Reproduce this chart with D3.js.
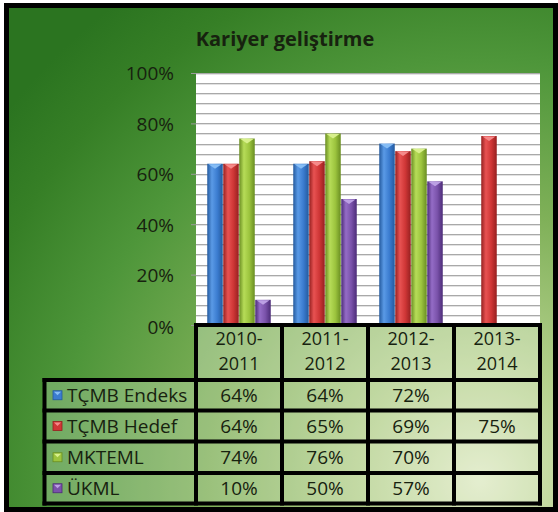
<!DOCTYPE html>
<html>
<head>
<meta charset="utf-8">
<script src="https://cdn.jsdelivr.net/npm/d3@7"></script>
<style>
  html, body { margin: 0; padding: 0; background: #fff; }
  svg { display: block; }
  text { font-family: "Open Sans", "DejaVu Sans", sans-serif; fill: #17220f; }
</style>
</head>
<body>
<svg id="chart" width="558" height="512"></svg>
<script>
// ---- data ----
const title = "Kariyer geliştirme";
const categories = ["2010-2011", "2011-2012", "2012-2013", "2013-2014"];
const seriesNames = ["TÇMB Endeks", "TÇMB Hedef", "MKTEML", "ÜKML"];
const endeks = [0.64, 0.64, 0.72, null];
const hedef  = [0.64, 0.65, 0.69, 0.75];
const mkteml = [0.74, 0.76, 0.70, null];
const ukml   = [0.10, 0.50, 0.57, null];
const yTicks = [0, 0.2, 0.4, 0.6, 0.8, 1.0];
const seriesValues = [endeks, hedef, mkteml, ukml];

// ---- styling per series: edge, light, body, cap ----
const palette = [
  { edge: "#245a9e", light: "#5a9ae6", body: "#3b7cd0", cap: "#86bdf5" },
  { edge: "#962020", light: "#e85252", body: "#cf3636", cap: "#f58a8a" },
  { edge: "#6a8e22", light: "#b6dc58", body: "#9cc43e", cap: "#d8f08c" },
  { edge: "#4c2c78", light: "#946cc6", body: "#7a52aa", cap: "#bca0e4" }
];

const svg = d3.select("#chart");
const defs = svg.append("defs");

// page background gradient
const bg = defs.append("radialGradient").attr("id", "bg")
  .attr("gradientUnits", "userSpaceOnUse")
  .attr("cx", 480).attr("cy", 480).attr("r", 600);
[[0, "#dde9c2"], [0.2, "#b4d08c"], [0.45, "#7fb058"], [0.7, "#4e963a"], [0.88, "#367f26"], [1, "#2b7420"]]
  .forEach(([o, c]) => bg.append("stop").attr("offset", o).attr("stop-color", c));

palette.forEach((p, i) => {
  const g = defs.append("linearGradient").attr("id", "bar" + i)
    .attr("x1", 0).attr("x2", 1).attr("y1", 0).attr("y2", 0);
  [[0, p.edge], [0.3, p.light], [0.65, p.body], [1, p.edge]]
    .forEach(([o, c]) => g.append("stop").attr("offset", o).attr("stop-color", c));
});

// frame
svg.append("rect")
  .attr("x", 6.5).attr("y", 5.5).attr("width", 549).attr("height", 504)
  .attr("fill", "url(#bg)").attr("stroke", "#000").attr("stroke-width", 5);

// ---- scales ----
const plotLeft = 196, plotRight = 540, plotTop = 73, plotBottom = 325;
const x = d3.scaleBand().domain(categories).range([plotLeft, plotRight]).paddingInner(0).paddingOuter(0);
const xs = d3.scaleBand().domain(seriesNames).range([0, x.bandwidth()]).paddingInner(0).paddingOuter(0.6875);
const y = d3.scaleLinear().domain([0, 1]).range([plotBottom, plotTop]);

// plot area
svg.append("rect")
  .attr("x", plotLeft).attr("y", plotTop)
  .attr("width", plotRight - plotLeft).attr("height", plotBottom - plotTop)
  .attr("fill", "#ffffff");

// minor gridlines every 4%
const gridValues = d3.range(0, 26).map(i => i / 25);
const grid = svg.append("g");
grid.selectAll("line.g1").data(gridValues.slice(1)).join("line")
  .attr("x1", plotLeft).attr("x2", plotRight)
  .attr("y1", d => Math.round(y(d)) + 0.5).attr("y2", d => Math.round(y(d)) + 0.5)
  .attr("stroke", "#a9a9a9").attr("stroke-width", 1);
grid.selectAll("line.g2").data(gridValues.slice(1)).join("line")
  .attr("x1", plotLeft).attr("x2", plotRight)
  .attr("y1", d => Math.round(y(d)) + 1.5).attr("y2", d => Math.round(y(d)) + 1.5)
  .attr("stroke", "#e2e2e2").attr("stroke-width", 1);

// y axis
const yAxis = d3.axisLeft(y).tickValues(yTicks).tickFormat(d3.format(".0%")).tickSize(5).tickPadding(17);
const ya = svg.append("g").attr("transform", `translate(${plotLeft},0)`).call(yAxis);
ya.select(".domain").remove();
ya.selectAll(".tick line").attr("stroke", "#9a9a9a");
ya.selectAll(".tick text")
  .attr("font-size", 19).attr("font-family", null).attr("fill", "#17220f")
  .attr("dy", d => d === 0 ? "0.45em" : "0.36em");

// bars
const barsG = svg.append("g");
seriesNames.forEach((name, si) => {
  const vals = seriesValues[si];
  const data = categories.map((c, ci) => ({ c, v: vals[ci] })).filter(d => d.v !== null);
  const g = barsG.append("g");
  g.selectAll("rect").data(data).join("rect")
    .attr("x", d => x(d.c) + xs(name) + 0.25)
    .attr("y", d => y(d.v))
    .attr("width", xs.bandwidth() - 0.5)
    .attr("height", d => y(0) - y(d.v))
    .attr("fill", `url(#bar${si})`);
  g.selectAll("path").data(data).join("path")
    .attr("d", d => {
      const x0 = x(d.c) + xs(name) + 1.5, x1 = x(d.c) + xs(name) + xs.bandwidth() - 1.5;
      const t = y(d.v);
      return `M${x0},${t + 0.5}L${x1},${t + 0.5}L${(x0 + x1) / 2},${t + 5}Z`;
    })
    .attr("fill", palette[si].cap);
});

// ---- data table ----
const legendLeft = 44.5;
const headerTop = 325, headerBottom = 380;
const rowLines = [380, 410.5, 441.5, 473, 503.5];
const lineW = 4;
const tableG = svg.append("g");

// cell washes
categories.forEach(c => {
  tableG.append("rect").attr("x", x(c)).attr("y", headerTop)
    .attr("width", x.bandwidth()).attr("height", headerBottom - headerTop)
    .attr("fill", "#ffffff").attr("fill-opacity", 0.28);
});
seriesNames.forEach((s, i) => {
  tableG.append("rect").attr("x", legendLeft).attr("y", rowLines[i])
    .attr("width", plotRight - legendLeft).attr("height", rowLines[i + 1] - rowLines[i])
    .attr("fill", "#ffffff").attr("fill-opacity", 0.22);
});

// header text, two lines per category
categories.forEach(c => {
  const [a, b] = c.split("-");
  const cx = x(c) + x.bandwidth() / 2;
  tableG.append("text").attr("text-anchor", "middle").attr("font-size", 18)
    .attr("x", cx).attr("y", 345).text(a + "-");
  tableG.append("text").attr("text-anchor", "middle").attr("font-size", 18)
    .attr("x", cx).attr("y", 370).text(b);
});

// legend keys, names and values
seriesNames.forEach((s, i) => {
  const cy = (rowLines[i] + rowLines[i + 1]) / 2;
  const p = palette[i];
  tableG.append("rect").attr("x", 53).attr("y", cy - 4.5).attr("width", 9).attr("height", 9)
    .attr("fill", p.body).attr("stroke", p.edge).attr("stroke-width", 0.8);
  tableG.append("path").attr("d", `M54,${cy - 3.5}L61,${cy - 3.5}L57.5,${cy}Z`).attr("fill", p.cap);
  tableG.append("text").attr("x", 67).attr("y", cy).attr("dy", "0.36em")
    .attr("font-size", 19).text(s);
  seriesValues[i].forEach((v, ci) => {
    if (v === null) return;
    tableG.append("text").attr("x", x(categories[ci]) + x.bandwidth() / 2).attr("y", cy)
      .attr("dy", "0.36em").attr("text-anchor", "middle").attr("font-size", 19)
      .text(d3.format(".0%")(v));
  });
});

// table borders
const border = tableG.append("g").attr("stroke", "#000").attr("stroke-width", lineW).attr("stroke-linecap", "square");
border.append("line").attr("x1", plotLeft).attr("x2", plotRight).attr("y1", headerTop).attr("y2", headerTop);
rowLines.forEach(ry => border.append("line").attr("x1", legendLeft).attr("x2", plotRight).attr("y1", ry).attr("y2", ry));
border.append("line").attr("x1", legendLeft).attr("x2", legendLeft).attr("y1", rowLines[0]).attr("y2", rowLines[4]);
[plotLeft, ...categories.map(c => x(c) + x.bandwidth())].forEach(vx =>
  border.append("line").attr("x1", vx).attr("x2", vx).attr("y1", headerTop).attr("y2", rowLines[4]));

// title
svg.append("text").attr("x", 285).attr("y", 39).attr("dy", "0.36em")
  .attr("text-anchor", "middle").attr("font-size", 20).attr("font-weight", "bold")
  .text(title);
</script>
</body>
</html>
